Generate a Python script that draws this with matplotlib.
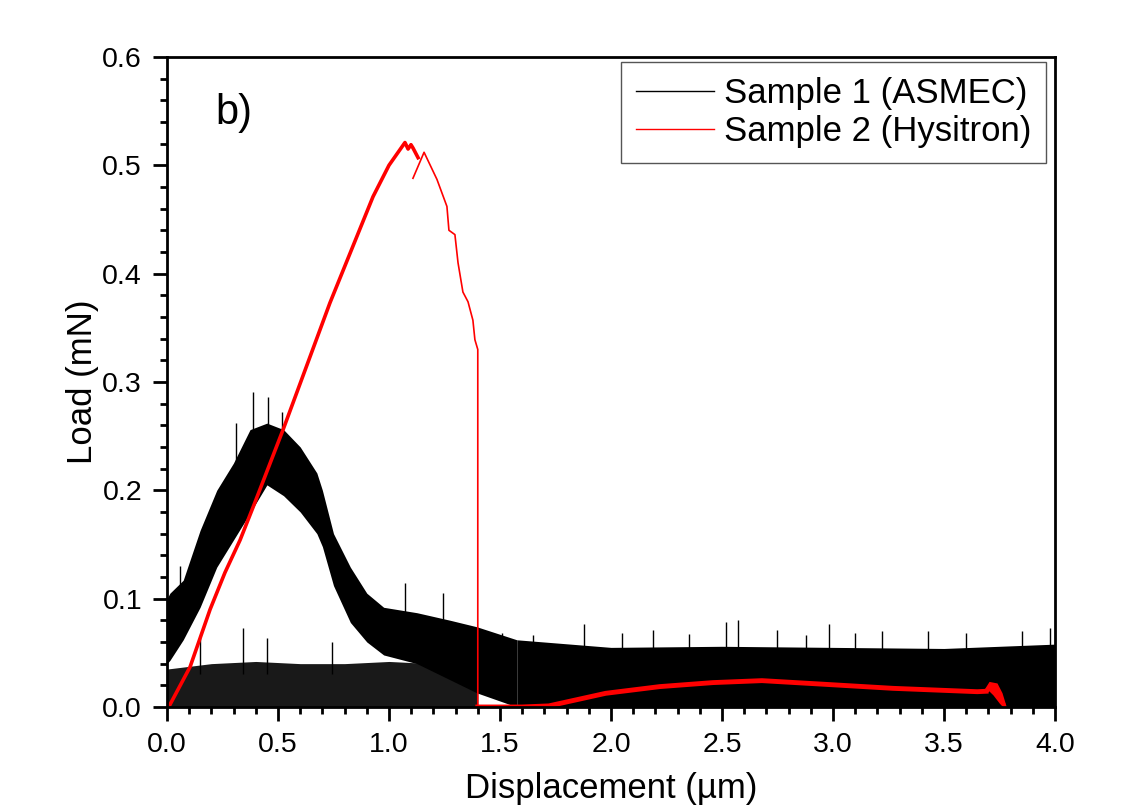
# %%
#Dependencies and setup
import matplotlib.pyplot as plt
from matplotlib.lines import Line2D

plt.rcParams['font.family'] = ['Liberation Sans', 'DejaVu Sans']

# %%
#Sample 1 (ASMEC) - noisy loading band, read as lower / upper envelope
s1_up_x  = [0.0, 0.013, 0.073, 0.149, 0.224, 0.299, 0.374, 0.45, 0.525, 0.60, 0.675, 0.70, 0.75, 0.826, 0.90, 0.976, 1.126, 1.276, 1.396, 1.576]
s1_up_hi = [0.10, 0.105, 0.117, 0.163, 0.200, 0.225, 0.256, 0.262, 0.256, 0.240, 0.216, 0.200, 0.160, 0.129, 0.105, 0.092, 0.087, 0.080, 0.074, 0.062]
s1_up_lo = [0.04, 0.043, 0.062, 0.092, 0.129, 0.154, 0.179, 0.205, 0.195, 0.180, 0.160, 0.148, 0.112, 0.078, 0.060, 0.048, 0.040, 0.025, 0.013, 0.0]

#lower branch (0 - 1.4 um)
s1_low_x  = [0.0, 0.2, 0.4, 0.6, 0.8, 1.0, 1.2, 1.4]
s1_low_hi = [0.035, 0.040, 0.042, 0.040, 0.040, 0.042, 0.040, 0.040]

#tail after 1.5 um
s1_tail_x  = [1.576, 2.0, 2.5, 3.0, 3.5, 4.0]
s1_tail_hi = [0.062, 0.055, 0.056, 0.055, 0.054, 0.058]

#biggest spikes above the band
spike_x   = [0.387, 0.455, 0.31, 0.52, 0.06, 1.072, 1.243, 0.342, 0.45, 0.743, 0.15, 1.51, 1.65, 1.88, 2.05, 2.19, 2.35, 2.52, 2.57, 2.75, 2.88, 2.98, 3.10, 3.22, 3.43, 3.60, 3.85, 3.98]
spike_top = [0.291, 0.286, 0.262, 0.272, 0.13, 0.114, 0.105, 0.073, 0.064, 0.060, 0.065, 0.068, 0.066, 0.077, 0.068, 0.071, 0.067, 0.078, 0.080, 0.071, 0.066, 0.077, 0.068, 0.0705, 0.0705, 0.068, 0.0705, 0.073]
spike_bot = [0.24, 0.24, 0.20, 0.22, 0.09, 0.07, 0.06, 0.03, 0.03, 0.03, 0.03, 0.04, 0.04, 0.04, 0.04, 0.04, 0.04, 0.04, 0.04, 0.04, 0.04, 0.04, 0.04, 0.04, 0.04, 0.04, 0.04, 0.04]

# %%
#Sample 2 (Hysitron)
s2_load_x = [0.0, 0.013, 0.104, 0.194, 0.261, 0.329, 0.387, 0.523, 0.734, 0.928, 1.0, 1.072, 1.086, 1.099, 1.108, 1.131]
s2_load_y = [0.0, 0.002, 0.037, 0.090, 0.124, 0.154, 0.184, 0.256, 0.373, 0.471, 0.500, 0.521, 0.515, 0.519, 0.516, 0.507]

s2_drop_x = [1.108, 1.158, 1.216, 1.261, 1.270, 1.297, 1.311, 1.333, 1.356, 1.378, 1.387, 1.400, 1.400]
s2_drop_y = [0.488, 0.512, 0.487, 0.462, 0.440, 0.436, 0.410, 0.383, 0.374, 0.357, 0.339, 0.330, 0.0]

s2_tail_x = [1.40, 1.60, 1.72, 1.976, 2.22, 2.46, 2.68, 2.94, 3.27, 3.65, 3.69]
s2_tail_y = [0.0, 0.0, 0.001, 0.0126, 0.0188, 0.0225, 0.0243, 0.0212, 0.0172, 0.0141, 0.0145]

#blob at the end of the tail
s2_end_x = [3.69, 3.71, 3.735, 3.755, 3.77, 3.76, 3.73, 3.705, 3.69]
s2_end_y = [0.0145, 0.021, 0.020, 0.012, 0.002, 0.004, 0.012, 0.017, 0.0145]

# %%
fig = plt.figure(figsize=(11.33, 8.10), dpi=100)
ax = fig.add_axes([0.1474, 0.1272, 0.7837, 0.8025])

ax.fill_between(s1_low_x, 0, s1_low_hi, color='k', alpha=0.9, linewidth=0)
ax.fill_between(s1_up_x, s1_up_lo, s1_up_hi, color='k', linewidth=0)
ax.fill_between(s1_tail_x, 0, s1_tail_hi, color='k', linewidth=0)
ax.vlines(spike_x, spike_bot, spike_top, color='k', linewidth=1)

ax.plot(s2_load_x, s2_load_y, color='red', lw=2.6)
ax.plot(s2_drop_x, s2_drop_y, color='red', lw=1.2)
ax.plot(s2_tail_x, s2_tail_y, color='red', lw=3.5)
ax.fill(s2_end_x, s2_end_y, color='red', lw=3)

ax.set_xlim(0, 4.0)
ax.set_ylim(0, 0.6)
ax.set_xticks([0.0, 0.5, 1.0, 1.5, 2.0, 2.5, 3.0, 3.5, 4.0])
ax.set_yticks([0.0, 0.1, 0.2, 0.3, 0.4, 0.5, 0.6])
ax.set_xticks([i * 0.1 for i in range(41)], minor=True)
ax.set_yticks([i * 0.02 for i in range(31)], minor=True)
ax.xaxis.set_major_formatter(plt.FormatStrFormatter('%.1f'))
ax.yaxis.set_major_formatter(plt.FormatStrFormatter('%.1f'))
ax.tick_params(which='major', direction='out', length=10, width=2, labelsize=20.5, pad=8)
ax.tick_params(which='minor', direction='out', length=5, width=2)
for s in ax.spines.values():
    s.set_linewidth(2)

ax.set_xlabel('Displacement (\u00b5m)', fontsize=25, labelpad=10)
ax.set_ylabel('Load (mN)', fontsize=25, labelpad=2)

ax.text(0.3, 0.548, 'b)', fontsize=30, ha='center', va='center')

handles = [Line2D([], [], color='k', lw=1), Line2D([], [], color='red', lw=1)]
ax.legend(handles, ['Sample 1 (ASMEC)', 'Sample 2 (Hysitron)'], loc='upper right',
          bbox_to_anchor=(0.99, 0.992), borderaxespad=0, fontsize=25, fancybox=False,
          edgecolor='#555555', framealpha=1, handlelength=2.25, handletextpad=0.3,
          labelspacing=0.15, borderpad=0.42)

fig.savefig('out.png', dpi=100)
